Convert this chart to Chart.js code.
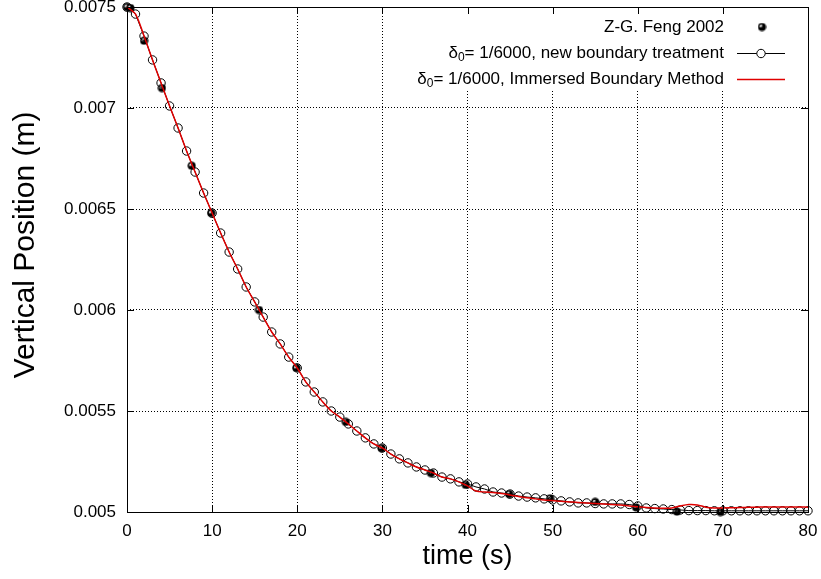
<!DOCTYPE html>
<html>
<head>
<meta charset="utf-8">
<script src="https://cdn.jsdelivr.net/npm/chart.js@4.4.1/dist/chart.umd.min.js"></script>
<style>
  html, body { margin: 0; padding: 0; background: #fff; }
  #wrap { width: 821px; height: 579px; }
</style>
</head>
<body>
<div id="wrap"><canvas id="myChart" width="821" height="579"></canvas></div>
<script>
// time axis samples (s)
let times = [0,1,2,3,4,5,6,7,8,9,10,11,12,13,14,15,16,17,18,19,20,21,22,23,24,25,26,27,28,29,
  30,31,32,33,34,35,36,37,38,39,40,41,42,43,44,45,46,47,48,49,50,51,52,53,54,55,56,57,58,59,
  60,61,62,63,64,65,66,67,68,69,70,71,72,73,74,75,76,77,78,79,80];

// delta0 = 1/6000, new boundary treatment (open circles)
let newBoundary = [0.0075, 0.007465, 0.007356, 0.007238, 0.007124, 0.00701, 0.006901, 0.006787, 0.006683, 0.006579,
  0.00648, 0.006381, 0.006287, 0.006203, 0.006114, 0.00604, 0.005965, 0.005891, 0.005832, 0.005767,
  0.005713, 0.005644, 0.005594, 0.005545, 0.0055, 0.00547, 0.005436, 0.005401, 0.005367, 0.005337,
  0.005317, 0.005287, 0.005263, 0.005243, 0.005223, 0.005208, 0.005193, 0.005173, 0.005164, 0.005149,
  0.005139, 0.005124, 0.005114, 0.005099, 0.005094, 0.005089, 0.005079, 0.005074, 0.00507, 0.005065,
  0.00506, 0.005055, 0.00505, 0.005045, 0.005045, 0.005042, 0.00504, 0.00504, 0.00504, 0.005037,
  0.00503, 0.00502, 0.005017, 0.005015, 0.005012, 0.00501, 0.005007, 0.005007, 0.005007, 0.005006,
  0.005006, 0.005006, 0.005006, 0.005006, 0.005006, 0.005006, 0.005006, 0.005006, 0.005006, 0.005006, 0.005006];

// delta0 = 1/6000, immersed boundary method (red line)
let immersed = [0.0075, 0.007465, 0.007356, 0.007238, 0.007124, 0.00701, 0.006901, 0.006787, 0.006683, 0.006579,
  0.00648, 0.006381, 0.006287, 0.006203, 0.006114, 0.00604, 0.005965, 0.005891, 0.005832, 0.005767,
  0.005713, 0.005644, 0.005594, 0.005545, 0.0055, 0.00547, 0.005436, 0.005401, 0.005367, 0.005337,
  0.005317, 0.005287, 0.005263, 0.005243, 0.005223, 0.005208, 0.005193, 0.005173, 0.005164, 0.005149,
  0.005129, 0.005104, 0.005099, 0.005097, 0.005092, 0.005084, 0.005077, 0.00507, 0.005065, 0.00506,
  0.005057, 0.005053, 0.00505, 0.005047, 0.005045, 0.005042, 0.00504, 0.005037, 0.005035, 0.00503,
  0.005026, 0.005022, 0.00502, 0.005019, 0.00502, 0.00503, 0.005037, 0.005035, 0.005024, 0.00502,
  0.00502, 0.005021, 0.005022, 0.005023, 0.005024, 0.005025, 0.005025, 0.005025, 0.005025, 0.005025, 0.005024];

// Z-G. Feng 2002 reference points
let fengT = [0, 0.4, 2, 4.1, 7.6, 9.9, 15.5, 19.9, 25.7, 29.9, 35.7, 39.8, 44.9, 49.7, 55, 59.8, 64.6, 69.7];
let fengY = [0.0075, 0.007495, 0.007333, 0.007099, 0.006714, 0.00648, 0.006, 0.005713, 0.005446, 0.005316,
  0.005193, 0.005134, 0.005089, 0.005068, 0.00505, 0.005023, 0.005002, 0.005];

let xTicks = [0, 10, 20, 30, 40, 50, 60, 70, 80];
let xTickLabels = ["0", "10", "20", "30", "40", "50", "60", "70", "80"];
let yTicks = [0.005, 0.0055, 0.006, 0.0065, 0.007, 0.0075];
let yTickLabels = ["0.005", "0.0055", "0.006", "0.0065", "0.007", "0.0075"];

let legendNames = ["Z-G. Feng 2002", "= 1/6000, new boundary treatment", "= 1/6000, Immersed Boundary Method"];

const FONT = "'Liberation Sans', Arial, Helvetica, sans-serif";

// filled dot with a small white wedge, like the gnuplot point
function fengDot(){
  let c = document.createElement("canvas");
  c.width = 9; c.height = 9;
  let g = c.getContext("2d");
  g.fillStyle = "#000";
  g.beginPath(); g.arc(4.5, 4.5, 4, 0, Math.PI*2); g.fill();
  g.fillStyle = "#fff";
  g.beginPath(); g.moveTo(4.5, 4.5); g.arc(4.5, 4.5, 2.6, Math.PI, 1.5*Math.PI); g.closePath(); g.fill();
  return c;
}
let dotImg = fengDot();

function pairs(xs, ys){
  let out = [];
  for (let i = 0; i < xs.length; i++) out.push({x: xs[i], y: ys[i]});
  return out;
}

// legend text with delta and subscript 0, right aligned at xr
function drawLegendText(ctx, idx, xr, y){
  ctx.fillStyle = "#000";
  ctx.textBaseline = "middle";
  ctx.textAlign = "left";
  if (idx === 0){
    ctx.font = "17px " + FONT;
    let w = ctx.measureText(legendNames[0]).width;
    ctx.fillText(legendNames[0], xr - w, y);
    return;
  }
  ctx.font = "17px " + FONT;
  let wd = ctx.measureText("\u03b4").width;
  let wr = ctx.measureText(legendNames[idx]).width;
  ctx.font = "12px " + FONT;
  let ws = ctx.measureText("0").width;
  let x0 = xr - wd - ws - wr;
  ctx.font = "17px " + FONT;
  ctx.fillText("\u03b4", x0, y);
  ctx.font = "12px " + FONT;
  ctx.fillText("0", x0 + wd, y + 5);
  ctx.font = "17px " + FONT;
  ctx.fillText(legendNames[idx], x0 + wd + ws, y);
}

const framePlugin = {
  id: "frame",
  afterDatasetsDraw(chart){
    let ctx = chart.ctx;
    let a = chart.chartArea;
    ctx.save();
    // opaque key box
    ctx.fillStyle = "#fff";
    ctx.fillRect(440, a.top + 1, a.right - 441, 83);
    let xr = 724, x1 = 737, x2 = 785, xm = 761;
    let rows = [27, 53, 79];
    drawLegendText(ctx, 0, xr, rows[0]);
    ctx.drawImage(dotImg, xm - 4.5 + 1, rows[0] - 4.5);
    drawLegendText(ctx, 1, xr, rows[1]);
    ctx.strokeStyle = "#000"; ctx.lineWidth = 1;
    ctx.beginPath(); ctx.moveTo(x1, rows[1] + 0.5); ctx.lineTo(x2, rows[1] + 0.5); ctx.stroke();
    ctx.fillStyle = "#fff";
    ctx.beginPath(); ctx.arc(xm, rows[1] + 0.5, 4.2, 0, Math.PI*2); ctx.fill(); ctx.stroke();
    drawLegendText(ctx, 2, xr, rows[2]);
    ctx.strokeStyle = "#e00000"; ctx.lineWidth = 1.5;
    ctx.beginPath(); ctx.moveTo(x1, rows[2] + 0.5); ctx.lineTo(x2, rows[2] + 0.5); ctx.stroke();
    ctx.restore();
  },
  afterDraw(chart){
    let ctx = chart.ctx;
    let a = chart.chartArea;
    let xs = chart.scales.x, ys = chart.scales.y;
    ctx.save();
    ctx.strokeStyle = "#000";
    ctx.lineWidth = 1;
    ctx.strokeRect(Math.round(a.left) + 0.5, Math.round(a.top) + 0.5, Math.round(a.right - a.left), Math.round(a.bottom - a.top));
    ctx.beginPath();
    // inward ticks on all four sides
    for (let v of xTicks){
      let px = Math.round(xs.getPixelForValue(v)) + 0.5;
      ctx.moveTo(px, a.bottom); ctx.lineTo(px, a.bottom - 7);
      ctx.moveTo(px, a.top); ctx.lineTo(px, a.top + 7);
    }
    for (let v of yTicks){
      let py = Math.round(ys.getPixelForValue(v)) + 0.5;
      ctx.moveTo(a.left, py); ctx.lineTo(a.left + 7, py);
      ctx.moveTo(a.right, py); ctx.lineTo(a.right - 7, py);
    }
    ctx.stroke();
    // y axis title
    ctx.translate(26, 245);
    ctx.rotate(-Math.PI/2);
    ctx.font = "30px " + FONT;
    ctx.fillStyle = "#000";
    ctx.textAlign = "center";
    ctx.textBaseline = "middle";
    ctx.fillText("Vertical Position (m)", 0, 0);
    ctx.restore();
  }
};

new Chart("myChart", {
  type: "scatter",
  data: {
    datasets: [{
      label: "δ0= 1/6000, Immersed Boundary Method",
      data: pairs(times, immersed),
      showLine: true,
      borderColor: "#e00000",
      borderWidth: 1.5,
      pointRadius: 0,
      tension: 0.3,
      order: 0
    }, {
      label: "δ0= 1/6000, new boundary treatment",
      data: pairs(times, newBoundary),
      showLine: true,
      borderColor: "#000",
      borderWidth: 1,
      pointRadius: 4.2,
      pointBorderWidth: 1,
      pointBorderColor: "#000",
      pointBackgroundColor: "rgba(0,0,0,0)",
      order: 1
    }, {
      label: "Z-G. Feng 2002",
      data: pairs(fengT, fengY),
      showLine: false,
      pointStyle: dotImg,
      pointRadius: 4.5,
      order: 2
    }]
  },
  options: {
    responsive: false,
    animation: false,
    clip: false,
    layout: { padding: { top: 7, right: 13, left: 0, bottom: 0 } },
    plugins: { legend: { display: false }, tooltip: { enabled: false } },
    scales: {
      x: {
        type: "linear",
        min: 0, max: 80,
        afterBuildTicks: (s) => { s.ticks = xTicks.map(v => ({value: v})); },
        afterFit: (s) => { s.height = 67; s.paddingLeft = 0; s.paddingRight = 0; },
        ticks: {
          callback: (v, i) => xTickLabels[i],
          color: "#000",
          font: { family: FONT, size: 17 },
          padding: 9,
          maxRotation: 0
        },
        grid: { color: "#000", lineWidth: 1, drawTicks: false },
        border: { display: false, dash: [1, 2] },
        title: {
          display: true,
          text: "time (s)",
          color: "#000",
          font: { family: FONT, size: 27 },
          padding: { top: 0, bottom: 6 }
        }
      },
      y: {
        type: "linear",
        min: 0.005, max: 0.0075,
        afterBuildTicks: (s) => { s.ticks = yTicks.map(v => ({value: v})); },
        afterFit: (s) => { s.width = 127; s.paddingTop = 0; s.paddingBottom = 0; },
        ticks: {
          callback: (v, i) => yTickLabels[i],
          color: "#000",
          font: { family: FONT, size: 17, lineHeight: 0.8 },
          padding: 11
        },
        grid: { color: "#000", lineWidth: 1, drawTicks: false },
        border: { display: false, dash: [1, 2] }
      }
    }
  },
  plugins: [framePlugin]
});
</script>
</body>
</html>
